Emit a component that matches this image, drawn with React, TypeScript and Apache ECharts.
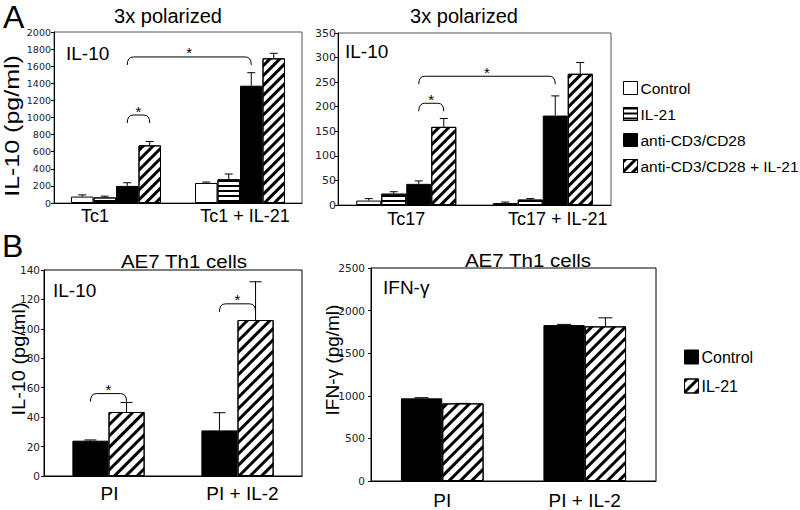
import React, { useEffect, useRef } from 'react';
import * as echarts from 'echarts';

// ---------- data ----------
const tc1Categories = ['Tc1', 'Tc1 + IL-21'];
const tc17Categories = ['Tc17', 'Tc17 + IL-21'];
const ae7Categories = ['PI', 'PI + IL-2'];

const polarizedSeriesNames = ['Control', 'IL-21', 'anti-CD3/CD28', 'anti-CD3/CD28 + IL-21'];
const ae7SeriesNames = ['Control', 'IL-21'];

// A, Tc1, IL-10 (pg/ml): means and SEM
const tc1Control = [75, 234];
const tc1ControlErr = [20, 11];
const tc1Il21 = [65, 277];
const tc1Il21Err = [15, 62];
const tc1Cd3 = [200, 1372];
const tc1Cd3Err = [37, 152];
const tc1Cd3Il21 = [674, 1692];
const tc1Cd3Il21Err = [46, 59];

// A, Tc17, IL-10 (pg/ml)
const tc17Control = [9, 4];
const tc17ControlErr = [4, 2];
const tc17Il21 = [23, 11];
const tc17Il21Err = [4, 2];
const tc17Cd3 = [43, 182];
const tc17Cd3Err = [6, 40];
const tc17Cd3Il21 = [159, 267];
const tc17Cd3Il21Err = [17, 23];

// B, AE7 Th1 cells, IL-10 (pg/ml)
const ae7Il10Control = [24, 31];
const ae7Il10ControlErr = [0.5, 12];
const ae7Il10Il21 = [43.5, 106];
const ae7Il10Il21Err = [6.5, 26];

// B, AE7 Th1 cells, IFN-γ (pg/ml)
const ae7IfnControl = [970, 1830];
const ae7IfnControlErr = [8, 8];
const ae7IfnIl21 = [911, 1815];
const ae7IfnIl21Err = [0, 100];

// y axis ranges [max, interval]
const tc1Axis = [2000, 200];
const tc17Axis = [350, 50];
const ae7Il10Axis = [140, 20];
const ae7IfnAxis = [2500, 500];

// significance brackets: [fromCategory, fromBar, toCategory, toBar, level]
const tc1Brackets = [[0, 2, 0, 3, 1029], [0, 2, 1, 2, 1708]];
const tc17Brackets = [[0, 2, 0, 3, 207], [0, 2, 1, 2, 262]];
const ae7Il10Brackets = [[0, 0, 0, 1, 56], [1, 0, 1, 1, 117]];
const ae7IfnBrackets: number[][] = [];

// ---------- styles ----------
const SANS = 'Liberation Sans, Arial, Helvetica, sans-serif';
const TICK = 'DejaVu Sans, Verdana, sans-serif';

const hatch = (gap: number) => ({
  symbol: 'rect',
  symbolSize: 1,
  color: '#000',
  dashArrayX: [1, 0],
  dashArrayY: [gap * 0.42, gap * 0.58],
  rotation: -Math.PI / 4,
});
const stripes = {
  symbol: 'rect',
  symbolSize: 1,
  color: '#000',
  dashArrayX: [1, 0],
  dashArrayY: [2, 2.4],
  rotation: 0,
};

const whiteStyle = { color: '#fff', borderColor: '#000', borderWidth: 1 };
const stripeStyle = { color: '#fff', borderColor: '#000', borderWidth: 1, decal: stripes };
const blackStyle = { color: '#000', borderColor: '#000', borderWidth: 1 };
const hatchStyle = (g: number) => ({ color: '#fff', borderColor: '#000', borderWidth: 1, decal: hatch(g) });

type Panel = {
  idx: number;
  grid: { left: number; top: number; width: number; height: number };
  categories: string[];
  seriesNames: string[];
  values: number[][];
  errors: number[][];
  styles: any[];
  axis: number[];
  gap: number;
  brackets: number[][];
  tickFont: number;
  tickMargin: number;
  labelFont: number;
  labelMargin: number;
  labelShift: number[];
  frameColor: string;
  cap: number;
};

function buildPanel(p: Panel) {
  const n = p.values.length;
  const gapPct = `${Math.round(p.gap * 1000) / 10}%`;
  const grid = { ...p.grid, show: true, borderColor: p.frameColor, borderWidth: 1, backgroundColor: 'transparent' };
  const rich: any = {};
  p.labelShift.forEach((s, i) => {
    rich['s' + i] = {
      fontSize: p.labelFont,
      fontFamily: SANS,
      color: '#000',
      padding: s < 0 ? [0, -2 * s, 0, 0] : [0, 0, 0, 2 * s],
    };
  });
  const xAxis = {
    gridIndex: p.idx,
    type: 'category',
    data: p.categories,
    axisLine: { lineStyle: { color: '#000', width: 1 } },
    axisTick: { show: false },
    axisLabel: {
      interval: 0,
      margin: p.labelMargin,
      fontSize: p.labelFont,
      fontFamily: SANS,
      color: '#000',
      formatter: (v: string, i: number) => `{s${i}|${v}}`,
      rich,
    },
    splitLine: { show: false },
  };
  const yAxis = {
    gridIndex: p.idx,
    type: 'value',
    min: 0,
    max: p.axis[0],
    interval: p.axis[1],
    axisLine: { show: true, lineStyle: { color: '#000', width: 1 } },
    axisTick: { show: true, length: 3, lineStyle: { color: '#000' } },
    axisLabel: {
      fontSize: p.tickFont,
      fontFamily: TICK,
      color: '#222',
      margin: p.tickMargin,
      formatter: (v: number) => String(v),
    },
    splitLine: { show: false },
  };
  const series: any[] = p.values.map((vals, i) => ({
    type: 'bar',
    name: p.seriesNames[i],
    xAxisIndex: p.idx,
    yAxisIndex: p.idx,
    data: vals,
    barGap: '0%',
    barCategoryGap: gapPct,
    itemStyle: p.styles[i],
    emphasis: { disabled: true },
    z: 2,
  }));
  const errData: number[][] = [];
  p.categories.forEach((_, c) => {
    p.values.forEach((vals, i) => {
      errData.push([c, i, vals[c], vals[c] + p.errors[i][c]]);
    });
  });
  const barX = (api: any, c: number, i: number) => {
    const band = api.size([1, 0])[0];
    const gw = band * (1 - p.gap);
    const bw = gw / n;
    const center = api.coord([c, 0])[0];
    return center - gw / 2 + bw * (i + 0.5);
  };
  series.push({
    type: 'custom',
    xAxisIndex: p.idx,
    yAxisIndex: p.idx,
    data: errData,
    encode: { x: 0, y: 3 },
    z: 5,
    silent: true,
    renderItem: (params: any, api: any) => {
      const c = api.value(0);
      const i = api.value(1);
      const v = api.value(2);
      const top = api.value(3);
      const x = barX(api, c, i);
      const y0 = api.coord([c, v])[1];
      const y1 = api.coord([c, top])[1];
      const st = { stroke: '#000', lineWidth: 1 };
      return {
        type: 'group',
        children: [
          { type: 'line', shape: { x1: x, y1: y0, x2: x, y2: y1 }, style: st },
          { type: 'line', shape: { x1: x - p.cap, y1: y1, x2: x + p.cap, y2: y1 }, style: st },
        ],
      };
    },
  });
  if (p.brackets.length) {
    series.push({
      type: 'custom',
      xAxisIndex: p.idx,
      yAxisIndex: p.idx,
      data: p.brackets,
      encode: { x: 0, y: 4 },
      z: 6,
      silent: true,
      renderItem: (params: any, api: any) => {
        const x1 = barX(api, api.value(0), api.value(1));
        const x2 = barX(api, api.value(2), api.value(3));
        const y = api.coord([0, api.value(4)])[1];
        const h = 8;
        const r = 6;
        const d = `M${x1} ${y + h} Q${x1} ${y} ${x1 + r} ${y} L${x2 - r} ${y} Q${x2} ${y} ${x2} ${y + h}`;
        return {
          type: 'group',
          children: [
            { type: 'path', shape: { pathData: d }, style: { fill: 'none', stroke: '#000', lineWidth: 1 } },
            {
              type: 'text',
              x: (x1 + x2) / 2,
              y: y - 4,
              style: { text: '*', font: `15px ${SANS}`, fill: '#000', align: 'center', verticalAlign: 'middle' },
            },
          ],
        };
      },
    });
  }
  return { grid, xAxis, yAxis, series };
}

function txt(text: string, x: number, y: number, size: number, align = 'left', extra: any = {}) {
  return {
    type: 'text',
    x,
    y,
    silent: true,
    ...extra,
    style: {
      text,
      font: `${size}px ${SANS}`,
      fill: '#000',
      align,
      verticalAlign: 'middle',
      textAlign: align,
      textVerticalAlign: 'middle',
    },
  };
}

export default function App() {
  const ref = useRef<HTMLDivElement>(null);
  useEffect(() => {
    if (!ref.current) return;
    const chart = echarts.init(ref.current, undefined, { renderer: 'svg' });

    const panels = [
      buildPanel({
        idx: 0,
        grid: { left: 54, top: 32, width: 248, height: 171 },
        categories: tc1Categories,
        seriesNames: polarizedSeriesNames,
        values: [tc1Control, tc1Il21, tc1Cd3, tc1Cd3Il21],
        errors: [tc1ControlErr, tc1Il21Err, tc1Cd3Err, tc1Cd3Il21Err],
        styles: [whiteStyle, stripeStyle, blackStyle, hatchStyle(6)],
        axis: tc1Axis,
        gap: 0.274,
        brackets: tc1Brackets,
        tickFont: 9.5,
        tickMargin: 3,
        labelFont: 18,
        labelMargin: 4,
        labelShift: [-21, 5],
        frameColor: '#555',
        cap: 4,
      }),
      buildPanel({
        idx: 1,
        grid: { left: 338, top: 33, width: 273, height: 172 },
        categories: tc17Categories,
        seriesNames: polarizedSeriesNames.map((s) => 'Tc17 ' + s),
        values: [tc17Control, tc17Il21, tc17Cd3, tc17Cd3Il21],
        errors: [tc17ControlErr, tc17Il21Err, tc17Cd3Err, tc17Cd3Il21Err],
        styles: [whiteStyle, stripeStyle, blackStyle, hatchStyle(6)],
        axis: tc17Axis,
        gap: 0.267,
        brackets: tc17Brackets,
        tickFont: 11,
        tickMargin: 2,
        labelFont: 18,
        labelMargin: 5,
        labelShift: [0, 15],
        frameColor: '#555',
        cap: 4,
      }),
      buildPanel({
        idx: 2,
        grid: { left: 44, top: 270, width: 258, height: 206 },
        categories: ae7Categories,
        seriesNames: ae7SeriesNames.map((s) => 'AE7 ' + s),
        values: [ae7Il10Control, ae7Il10Il21],
        errors: [ae7Il10ControlErr, ae7Il10Il21Err],
        styles: [blackStyle, hatchStyle(7)],
        axis: ae7Il10Axis,
        gap: 0.44,
        brackets: ae7Il10Brackets,
        tickFont: 10.5,
        tickMargin: 4,
        labelFont: 19,
        labelMargin: 8,
        labelShift: [1, 5],
        frameColor: '#000',
        cap: 6,
      }),
      buildPanel({
        idx: 3,
        grid: { left: 371, top: 268, width: 285, height: 214 },
        categories: ae7Categories,
        seriesNames: ae7SeriesNames.map((s) => 'IFN ' + s),
        values: [ae7IfnControl, ae7IfnIl21],
        errors: [ae7IfnControlErr, ae7IfnIl21Err],
        styles: [blackStyle, hatchStyle(7)],
        axis: ae7IfnAxis,
        gap: 0.42,
        brackets: ae7IfnBrackets,
        tickFont: 10.5,
        tickMargin: 6,
        labelFont: 19,
        labelMargin: 10,
        labelShift: [0, 0],
        frameColor: '#000',
        cap: 7,
      }),
    ];

    const legendBase = {
      orient: 'vertical',
      icon: 'rect',
      padding: 0,
      itemWidth: 14,
      selectedMode: false,
      textStyle: { fontSize: 15.5, fontFamily: SANS, color: '#000', padding: [0, 0, 0, -2] },
      itemStyle: { borderColor: '#000', borderWidth: 1 },
    };

    chart.setOption({
      animation: false,
      backgroundColor: '#fff',
      grid: panels.map((p) => p.grid),
      xAxis: panels.map((p) => p.xAxis),
      yAxis: panels.map((p) => p.yAxis),
      series: panels.flatMap((p) => p.series),
      legend: [
        {
          ...legendBase,
          left: 623,
          top: 80,
          itemHeight: 13,
          itemGap: 10,
          data: polarizedSeriesNames,
        },
        {
          ...legendBase,
          left: 684,
          top: 349,
          itemHeight: 14,
          itemGap: 13,
          textStyle: { ...legendBase.textStyle, fontSize: 16 },
          data: ae7SeriesNames.map((s) => 'IFN ' + s),
          formatter: (name: string) => name.replace('IFN ', ''),
        },
      ],
      graphic: [
        txt('A', 3, 17, 32),
        txt('B', 2, 246, 32),
        txt('3x polarized', 168, 16, 20, 'center'),
        txt('3x polarized', 464, 16, 20, 'center'),
        txt('AE7 Th1 cells', 184, 261, 19, 'center', { scaleX: 1.08 }),
        txt('AE7 Th1 cells', 528, 260, 19, 'center', { scaleX: 1.08 }),
        txt('IL-10', 66, 53, 19),
        txt('IL-10', 345, 51, 19),
        txt('IL-10', 53, 290, 19),
        txt('IFN-γ', 383, 287, 19),
        txt('IL-10 (pg/ml)', 12, 126, 20, 'center', { rotation: Math.PI / 2, scaleX: 1.25 }),
        txt('IL-10 (pg/ml)', 18, 359, 19, 'center', { rotation: Math.PI / 2, scaleX: 1.05 }),
        txt('IFN-γ (pg/ml)', 332, 360, 19, 'center', { rotation: Math.PI / 2 }),
      ],
    });
    return () => chart.dispose();
  }, []);
  return (
    <div
      ref={ref}
      style={{ position: 'absolute', left: 0, top: 0, width: 800, height: 510, background: '#fff' }}
    />
  );
}
